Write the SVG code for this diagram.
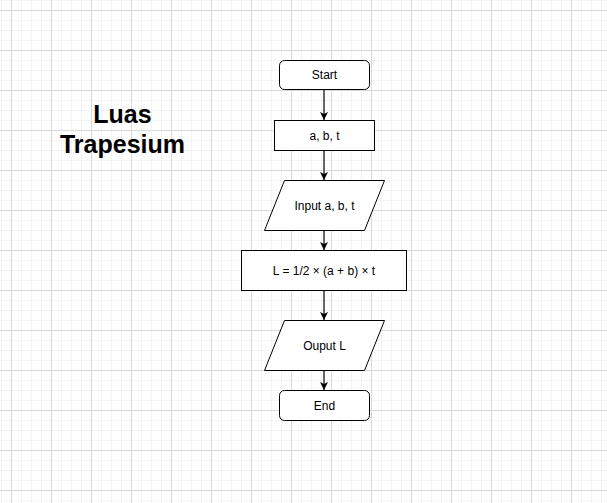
<svg xmlns="http://www.w3.org/2000/svg" width="607" height="503" viewBox="0 0 607 503">
  <defs>
    <pattern id="minor" x="1" y="0" width="10" height="10" patternUnits="userSpaceOnUse">
      <path d="M 0 0.5 H 10 M 0.5 0 V 10" fill="none" stroke="#f3f3f3" stroke-width="1"/>
    </pattern>
    <pattern id="major" x="11" y="10" width="40" height="40" patternUnits="userSpaceOnUse">
      <path d="M 0 0.5 H 40 M 0.5 0 V 40" fill="none" stroke="#d9d9d9" stroke-width="1"/>
    </pattern>
    <marker id="arrow" markerWidth="10" markerHeight="10" refX="8" refY="4" orient="auto" markerUnits="userSpaceOnUse">
      <path d="M 0 0 L 8 4 L 0 8 L 2 4 Z" fill="#000"/>
    </marker>
    <style>
      .shape { fill: #ffffff; stroke: #000000; stroke-width: 1; }
      .label { font-family: "Liberation Sans", Arial, sans-serif; font-size: 12px; fill: #000; text-anchor: middle; }
      .title { font-family: "Liberation Sans", Arial, sans-serif; font-size: 25px; font-weight: bold; fill: #000; text-anchor: middle; }
      .conn { fill: none; stroke: #333; stroke-width: 1.5; }
    </style>
  </defs>
  <rect width="607" height="503" fill="#ffffff"/>
  <rect width="607" height="503" fill="url(#minor)"/>
  <rect width="607" height="503" fill="url(#major)"/>

  <g id="title">
    <text class="title" x="122.5" y="123">Luas</text>
    <text class="title" x="122.5" y="153">Trapesium</text>
  </g>

  <g id="connectors">
    <path class="conn" d="M 324 89.5 V 120" marker-end="url(#arrow)"/>
    <path class="conn" d="M 324 150.5 V 180" marker-end="url(#arrow)"/>
    <path class="conn" d="M 324 230.5 V 250" marker-end="url(#arrow)"/>
    <path class="conn" d="M 324 290.5 V 320" marker-end="url(#arrow)"/>
    <path class="conn" d="M 324 370.5 V 390" marker-end="url(#arrow)"/>
  </g>

  <g id="start">
    <rect class="shape" x="279.5" y="60.5" width="90" height="29" rx="5" ry="5"/>
    <text class="label" x="324.5" y="79">Start</text>
  </g>
  <g id="vars">
    <rect class="shape" x="274.5" y="120.5" width="100" height="30"/>
    <text class="label" x="324.5" y="139.5">a, b, t</text>
  </g>
  <g id="input">
    <polygon class="shape" points="284.5,180.5 384.5,180.5 364.5,230.5 264.5,230.5"/>
    <text class="label" x="324.5" y="209.5">Input a, b, t</text>
  </g>
  <g id="process">
    <rect class="shape" x="241.5" y="250.5" width="165" height="40"/>
    <text class="label" x="324" y="274.5">L = 1/2 × (a + b) × t</text>
  </g>
  <g id="output">
    <polygon class="shape" points="284.5,320.5 384.5,320.5 364.5,370.5 264.5,370.5"/>
    <text class="label" x="324.5" y="349.5">Ouput L</text>
  </g>
  <g id="end">
    <rect class="shape" x="279.5" y="390.5" width="90" height="30" rx="5" ry="5"/>
    <text class="label" x="324.5" y="409.5">End</text>
  </g>
</svg>
